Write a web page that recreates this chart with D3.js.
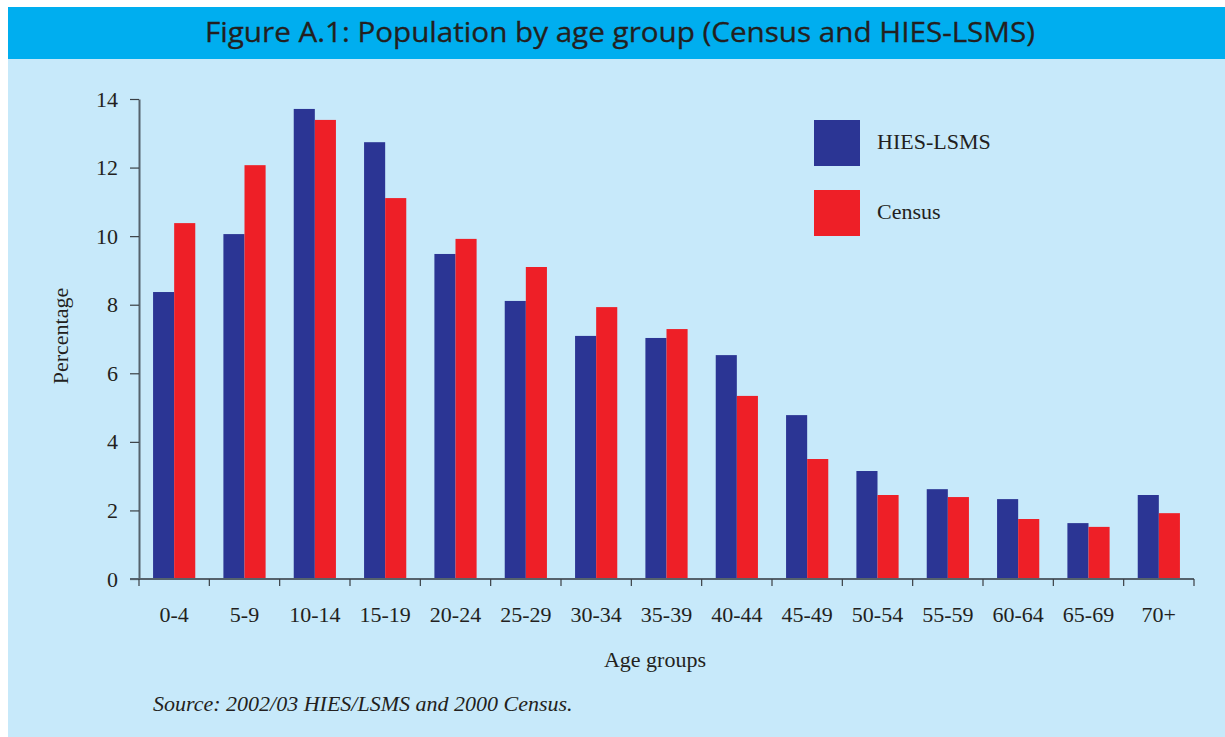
<!DOCTYPE html>
<html>
<head>
<meta charset="utf-8">
<script src="https://cdn.jsdelivr.net/npm/d3@7"></script>
<style>
  body { margin: 0; background: #fff; }
  svg { display: block; }
</style>
</head>
<body>
<div id="chart"></div>
<script>
const ageGroups = ["0-4", "5-9", "10-14", "15-19", "20-24", "25-29", "30-34", "35-39",
  "40-44", "45-49", "50-54", "55-59", "60-64", "65-69", "70+"];
const hiesLsms = [8.37, 10.06, 13.71, 12.74, 9.48, 8.11, 7.09, 7.03, 6.53, 4.78, 3.15, 2.62, 2.33, 1.63, 2.45];
const census = [10.38, 12.07, 13.39, 11.11, 9.92, 9.10, 7.93, 7.29, 5.34, 3.50, 2.45, 2.39, 1.75, 1.52, 1.92];
const yTicks = [0, 2, 4, 6, 8, 10, 12, 14];
const seriesNames = ["HIES-LSMS", "Census"];

const width = 1225
const height = 737
const margin = ({ top: 99, right: 31, bottom: 158, left: 139 })
const paleta = ["#2b3594", "#ee1f27"];
const ink = "#231f20";
const serif = "'Liberation Serif', 'Times New Roman', serif";

const svg = d3.select("#chart").append("svg")
  .attr("width", width)
  .attr("height", height)
  .attr("viewBox", [0, 0, width, height]);

// fondo y cabecera
svg.append("rect")
  .attr("x", 8).attr("y", 58)
  .attr("width", width - 8).attr("height", height - 58)
  .attr("fill", "#c7e9fa");

svg.append("rect")
  .attr("x", 8).attr("y", 7)
  .attr("width", width - 8).attr("height", 52)
  .attr("fill", "#00aeef");

svg.append("text")
  .attr("x", 620).attr("y", 42)
  .attr("text-anchor", "middle")
  .attr("font-family", "'Open Sans', 'Noto Sans', sans-serif")
  .attr("font-size", 27)
  .attr("fill", ink)
  .attr("stroke", ink)
  .attr("stroke-width", 0.3)
  .attr("textLength", 830)
  .attr("lengthAdjust", "spacingAndGlyphs")
  .text("Figure A.1: Population by age group (Census and HIES-LSMS)");

const rows = ageGroups.map((g, i) => ({ group: g, values: [hiesLsms[i], census[i]] }));

const x0 = d3.scaleBand()
  .domain(ageGroups)
  .range([margin.left, width - margin.right])
  .paddingInner(0.4)
  .paddingOuter(0.2);

const x1 = d3.scaleBand()
  .domain([0, 1])
  .range([0, x0.bandwidth()]);

const y = d3.scaleLinear()
  .domain([0, 14])
  .range([height - margin.bottom, margin.top]);

// barras
svg.append("g")
  .selectAll("g")
  .data(rows)
  .join("g")
  .attr("transform", d => `translate(${x0(d.group)},0)`)
  .selectAll("rect")
  .data(d => d.values.map((v, k) => ({ k, v })))
  .join("rect")
  .attr("x", d => x1(d.k))
  .attr("width", x1.bandwidth())
  .attr("y", d => y(d.v))
  .attr("height", d => y(0) - y(d.v))
  .attr("fill", d => paleta[d.k]);

// eje y
const yAxis = g => g
  .attr("transform", `translate(${margin.left},0)`)
  .call(d3.axisLeft(y).tickValues(yTicks).tickSize(9).tickPadding(12).tickSizeOuter(0))
  .call(g => g.select(".domain").attr("stroke", "#55626c").attr("stroke-width", 2))
  .call(g => g.selectAll(".tick line").attr("stroke", "#3a3f44").attr("stroke-width", 1.2))
  .call(g => g.selectAll(".tick text")
    .attr("font-family", serif).attr("font-size", 22).attr("fill", ink));

svg.append("g").call(yAxis);

// eje x: marcas en los limites de cada grupo
const xAxisG = svg.append("g").attr("transform", `translate(0,${y(0)})`);
xAxisG.append("line")
  .attr("x1", margin.left - 9).attr("x2", width - margin.right)
  .attr("stroke", "#55626c").attr("stroke-width", 2);

const edges = d3.range(ageGroups.length + 1).map(i => margin.left + i * x0.step());
xAxisG.selectAll(".tk")
  .data(edges)
  .join("line")
  .attr("class", "tk")
  .attr("x1", d => d).attr("x2", d => d)
  .attr("y1", 0).attr("y2", 7)
  .attr("stroke", "#3a3f44").attr("stroke-width", 1.2);

xAxisG.selectAll(".lbl")
  .data(ageGroups)
  .join("text")
  .attr("class", "lbl")
  .attr("x", d => x0(d) + x0.bandwidth() / 2)
  .attr("y", 43)
  .attr("text-anchor", "middle")
  .attr("font-family", serif)
  .attr("font-size", 22)
  .attr("fill", ink)
  .text(d => d);

// titulos de ejes
svg.append("text")
  .attr("transform", "translate(68,336) rotate(-90)")
  .attr("text-anchor", "middle")
  .attr("font-family", serif).attr("font-size", 22).attr("fill", ink)
  .text("Percentage");

svg.append("text")
  .attr("x", 655).attr("y", 667)
  .attr("text-anchor", "middle")
  .attr("font-family", serif).attr("font-size", 22).attr("fill", ink)
  .text("Age groups");

svg.append("text")
  .attr("x", 153).attr("y", 711)
  .attr("font-family", serif).attr("font-size", 22).attr("font-style", "italic").attr("fill", ink)
  .text("Source: 2002/03 HIES/LSMS and 2000 Census.");

// leyenda
const legend = svg.append("g")
  .selectAll("g")
  .data(seriesNames)
  .join("g")
  .attr("transform", (d, i) => `translate(814,${120 + i * 70})`);

legend.append("rect")
  .attr("width", 46).attr("height", 46)
  .attr("fill", (d, i) => paleta[i]);

legend.append("text")
  .attr("x", 63).attr("y", 29)
  .attr("font-family", serif).attr("font-size", 22).attr("fill", ink)
  .text(d => d);
</script>
</body>
</html>
